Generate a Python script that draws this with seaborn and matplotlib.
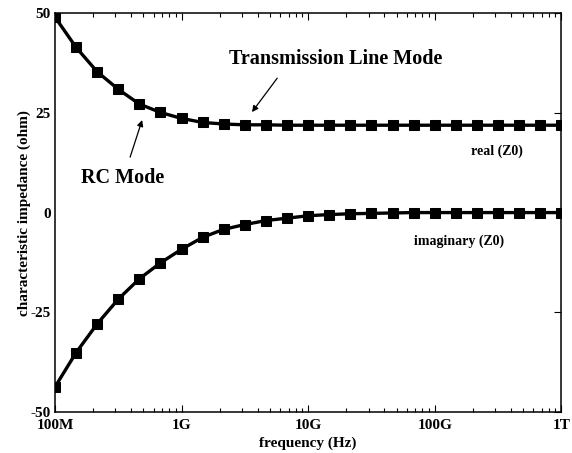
import numpy as np
import pandas as pd
import matplotlib
matplotlib.use("Agg")
import matplotlib.pyplot as plt
import seaborn as sns

# ---- data ----
freq = [1.0e8, 1.468e8, 2.154e8, 3.162e8, 4.642e8, 6.813e8,
        1.0e9, 1.468e9, 2.154e9, 3.162e9, 4.642e9, 6.813e9,
        1.0e10, 1.468e10, 2.154e10, 3.162e10, 4.642e10, 6.813e10,
        1.0e11, 1.468e11, 2.154e11, 3.162e11, 4.642e11, 6.813e11,
        1.0e12]
real_z0 = [49.0, 41.4, 35.3, 30.9, 27.2, 25.1, 23.6, 22.6, 22.2, 22.0, 22.0, 21.9,
           21.9, 21.9, 21.9, 21.9, 21.9, 21.9, 21.9, 21.9, 21.9, 21.9, 21.9, 21.9, 21.9]
imag_z0 = [-43.7, -35.1, -27.9, -21.7, -16.6, -12.6, -9.2, -6.2, -4.2, -3.0, -2.0, -1.4,
           -0.8, -0.5, -0.3, -0.2, -0.1, 0.0, 0.0, 0.0, 0.0, 0.0, 0.0, 0.0, 0.0]
xtick_vals = [1e8, 1e9, 1e10, 1e11, 1e12]
xtick_labels = ["100M", "1G", "10G", "100G", "1T"]
ytick_vals = [-50, -25, 0, 25, 50]

df = pd.DataFrame({
    "freq": freq * 2,
    "z": real_z0 + imag_z0,
    "part": ["real"] * len(freq) + ["imag"] * len(freq),
})

sns.set_style("ticks")
plt.rcParams["font.family"] = ["Liberation Serif", "DejaVu Serif"]
plt.rcParams["font.weight"] = "bold"
for k in ["text.color", "axes.labelcolor", "xtick.color", "ytick.color", "axes.edgecolor"]:
    plt.rcParams[k] = "black"

fig = plt.figure(figsize=(5.72, 4.53), dpi=100)
ax = fig.add_axes([0.0962, 0.0905, 0.885, 0.8805])

sns.lineplot(data=df, x="freq", y="z", units="part", estimator=None,
             color="black", linewidth=2.4, marker="s", markersize=6.5,
             markerfacecolor="black", markeredgecolor="black",
             ax=ax, legend=False)

ax.set_xscale("log")
ax.set_xlim(1e8, 1e12)
ax.set_ylim(-50, 50)
ax.set_xticks(xtick_vals)
ax.set_xticklabels(xtick_labels, fontsize=11, fontweight="bold")
ax.set_yticks(ytick_vals)
ax.set_yticklabels([str(v) for v in ytick_vals], fontsize=11, fontweight="bold")
ax.tick_params(axis="both", which="both", direction="in", top=True, right=True)
ax.tick_params(axis="y", which="both", left=False, labelleft=True)
ax.tick_params(axis="y", which="major", length=5, width=0.8, pad=3)
ax.tick_params(axis="x", which="major", length=5, width=0.8, pad=5)
ax.tick_params(axis="x", which="minor", length=3, width=0.8)
for s in ax.spines.values():
    s.set_linewidth(1.1)
    s.set_color("black")

ax.set_xlabel("frequency (Hz)", fontsize=11, fontweight="bold", labelpad=3)
ax.set_ylabel("characteristic impedance (ohm)", fontsize=11, fontweight="bold", labelpad=0)

# annotations
arrow_kw = dict(arrowstyle="-|>", color="black", lw=0.9,
                mutation_scale=9, shrinkA=0, shrinkB=0)
ax.annotate("", xy=(3.6e9, 25.2), xytext=(5.7e9, 33.7), arrowprops=arrow_kw)
ax.annotate("", xy=(4.88e8, 23.2), xytext=(3.92e8, 13.9), arrowprops=arrow_kw)
ax.text(1.66e10, 38.5, "Transmission Line Mode", ha="center", va="center",
        fontsize=14.5, fontweight="bold")
ax.text(3.39e8, 8.6, "RC Mode", ha="center", va="center",
        fontsize=14.5, fontweight="bold")
ax.text(3.12e11, 15.4, "real (Z0)", ha="center", va="center", fontsize=10, fontweight="bold")
ax.text(1.56e11, -7.1, "imaginary (Z0)", ha="center", va="center", fontsize=10, fontweight="bold")

fig.savefig("out.png", dpi=100)
